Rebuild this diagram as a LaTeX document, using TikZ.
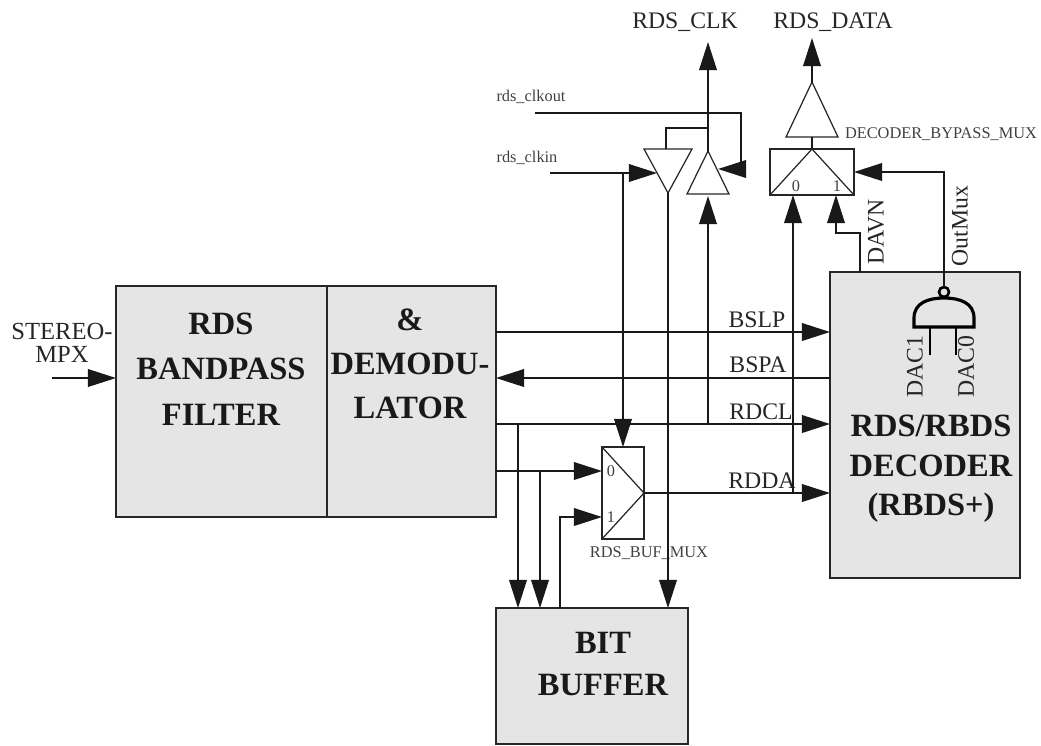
\documentclass[tikz,border=0pt]{standalone}
\usepackage{fontspec}
\setmainfont{Liberation Serif}
\usetikzlibrary{arrows.meta}
\begin{document}
\begin{tikzpicture}[x=0.02cm,y=-0.02cm,
  bloco/.style={draw=black!85,fill=gray!20,line width=1pt,inner sep=0pt,outer sep=0pt},
  mux/.style={draw=black!85,fill=white,line width=1pt,inner sep=0pt,outer sep=0pt},
  titulo/.style={font=\fontsize{18.5}{26}\selectfont\bfseries,align=center,text=black!90,inner sep=0pt},
  sinal/.style={font=\fontsize{13.5}{13}\selectfont,align=center,inner sep=0pt,text=black!85},
  miudo/.style={font=\fontsize{9.3}{11}\selectfont,inner sep=0pt,text=black!75},
  fio/.style={line width=1.1pt,draw=black!90},
  seta/.style={-{Triangle[length=16pt,width=10pt]}},
  tri/.style={draw=black!85,line width=0.7pt,line join=miter}]
\useasboundingbox (0,0) rectangle (1041,745);
%filtro passa-banda e demodulador
\node[bloco,minimum width=4.22cm,minimum height=4.62cm] (filtro) at (221.5,401.5) {};
\node[bloco,minimum width=3.38cm,minimum height=4.62cm] (demod) at (411.5,401.5) {};
\node[titulo] (tfiltro) at (221,369) {RDS\\BANDPASS\\FILTER};
\node[titulo,font=\fontsize{18.5}{25}\selectfont\bfseries] (tdemod) at (410,364) {\&\\DEMODU-\\LATOR};
%decodificador
\node[bloco,minimum width=3.8cm,minimum height=6.12cm] (decod) at (925,425) {};
\node[titulo,font=\fontsize{18.5}{22.5}\selectfont\bfseries] (tdecod) at (931,469) {RDS/RBDS\\DECODER\\(RBDS+)};
%buffer de bits
\node[bloco,minimum width=3.84cm,minimum height=2.72cm] (buffer) at (592,676) {};
\node[titulo,font=\fontsize{18.5}{24}\selectfont\bfseries] (tbuffer) at (603,664) {BIT\\BUFFER};
%multiplexadores
\node[mux,minimum width=0.84cm,minimum height=1.84cm] (muxbuf) at (623,493) {};
\draw[tri] (muxbuf.north west) -- (muxbuf.east) -- (muxbuf.south west);
\node[miudo] (mb0) at (611,471) {0};
\node[miudo] (mb1) at (611,517) {1};
\node[miudo] (tmuxbuf) at (649,553) {RDS\_BUF\_MUX};
\node[mux,minimum width=1.68cm,minimum height=0.92cm] (muxbyp) at (812,172) {};
\draw[tri] (muxbyp.south west) -- (muxbyp.north) -- (muxbyp.south east);
\node[miudo] (mp0) at (796,186) {0};
\node[miudo] (mp1) at (837,186) {1};
\node[miudo] (tmuxbyp) at (941,134) {DECODER\_BYPASS\_MUX};
%buffers triangulares
\coordinate (inapex) at (668,193);
\coordinate (outapex) at (708,151);
\coordinate (dataapex) at (812,82);
\draw[tri] (644,149) -- (692,149) -- (inapex) -- cycle;
\draw[tri] (687,194) -- (729,194) -- (outapex) -- cycle;
\draw[tri] (786,137) -- (838,137) -- (dataapex) -- cycle;
%porta NAND
\draw[line width=1.8pt] (914,327) -- (914,318) .. controls (914,303) and (928,298) .. (944,298) .. controls (960,298) and (974,303) .. (974,318) -- (974,327) -- cycle;
\draw[line width=1.5pt] (944,292) circle[radius=0.1cm];
\draw[line width=1.6pt] (930,327) -- (930,355) (956,327) -- (956,355);
\node[sinal,rotate=90] (dac1) at (915,367) {DAC1};
\node[sinal,rotate=90] (dac0) at (966,367) {DAC0};
%entrada
\coordinate (mpx) at (52,378);
\node[sinal,font=\fontsize{14}{13}\selectfont] (tmpx) at (62,343) {STEREO-\\MPX};
\draw[fio,seta] (mpx) -- (filtro.west |- mpx);
%sinais entre blocos
\coordinate (bslp) at (0,332);
\coordinate (bspa) at (0,378);
\coordinate (rdcl) at (0,424);
\coordinate (lin0) at (0,471);
\coordinate (lin1) at (0,517);
\draw[fio,seta] (demod.east |- bslp) -- (decod.west |- bslp);
\draw[fio,seta] (decod.west |- bspa) -- (demod.east |- bspa);
\draw[fio,seta] (demod.east |- rdcl) -- (decod.west |- rdcl);
\draw[fio,seta] (demod.east |- lin0) -- (muxbuf.west |- lin0);
\draw[fio,seta] (muxbuf.east) -- (decod.west |- muxbuf.east);
\node[sinal] (tbslp) at (757,320) {BSLP};
\node[sinal] (tbspa) at (758,365) {BSPA};
\node[sinal] (trdcl) at (761,412) {RDCL};
\node[sinal] (trdda) at (762,481) {RDDA};
%ligacoes ao buffer de bits
\draw[fio,seta] (518,424) -- (buffer.north -| 518,0);
\draw[fio,seta] (540,471) -- (buffer.north -| 540,0);
\draw[fio,seta] (buffer.north -| 560,0) |- (muxbuf.west |- lin1);
%relogio
\node[miudo] (tclkout) at (531,97) {rds\_clkout};
\node[miudo] (tclkin) at (527,158) {rds\_clkin};
\coordinate (clkin) at (550,173);
\draw[fio,seta] (clkin) -- (657,173);
\draw[fio,seta] (muxbuf.north |- clkin) -- (muxbuf.north);
\draw[fio,seta] (535,113) -- (741,113) |- (718,169);
\draw[fio] (708,128) -| (666,149);
\draw[fio,seta] (inapex) -- (buffer.north -| inapex);
\draw[fio,seta] (outapex |- rdcl) -- (708,196);
\node[sinal] (tclk) at (685,22) {RDS\_CLK};
\draw[fio,seta] (outapex) -- (708,42);
%saida de dados
\node[sinal] (tdata) at (833,22) {RDS\_DATA};
\draw[fio] (muxbyp.north) -- (812,137);
\draw[fio,seta] (dataapex) -- (812,38);
\draw[fio,seta] (793,493) -- (muxbyp.south -| 793,0);
\draw[fio,seta] (decod.north -| 860,0) |- (836,233) -- (muxbyp.south -| 836,0);
\draw[fio,seta] (944,287) |- (muxbyp.east);
\node[sinal,rotate=90] (tdavn) at (876,232) {DAVN};
\node[sinal,rotate=90] (toutmux) at (960,226) {OutMux};
\end{tikzpicture}
\end{document}
